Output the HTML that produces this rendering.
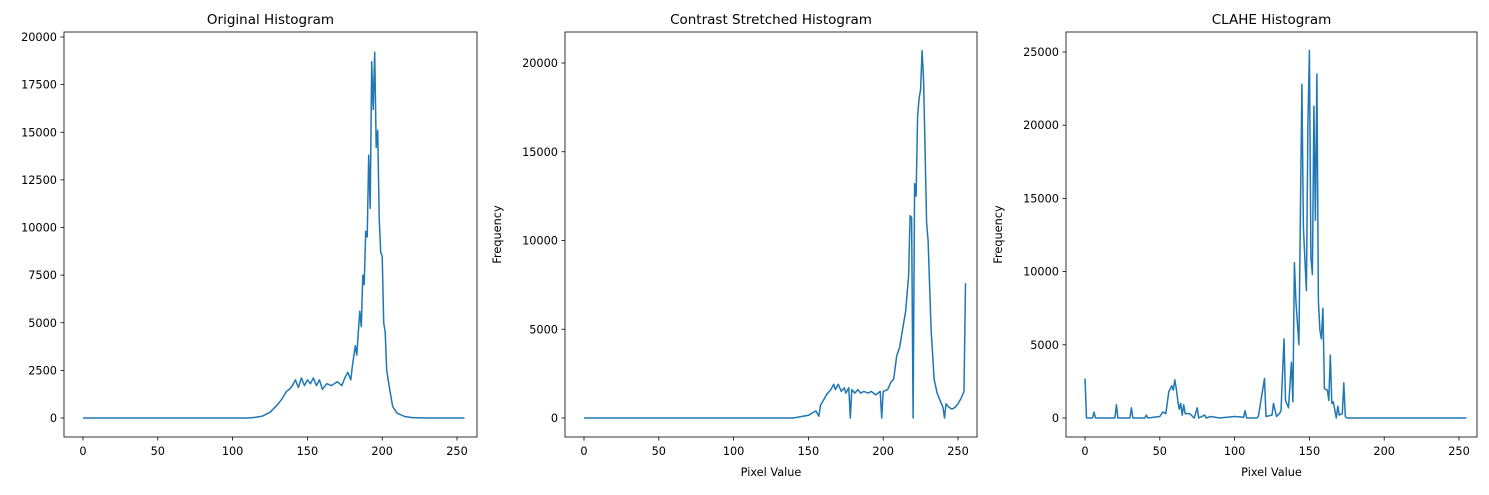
<!DOCTYPE html>
<html><head><meta charset="utf-8"><style>
body{margin:0;background:#fff;font-family:"Liberation Sans","DejaVu Sans",sans-serif;}
svg text{font-family:"DejaVu Sans","Liberation Sans",sans-serif;}
</style></head><body>
<svg id="c" width="1489" height="490" xmlns="http://www.w3.org/2000/svg"></svg>
<script>
const p1x=[0,110,115,120,125,130,133,136,138,140,142,144,146,148,150,152,154,156,158,160,163,166,170,173,175,177,179,180,182,183,184,185,186,187,188,189,190,191,192,193,194,195,196,197,198,199,200,201,202,203,205,207,210,215,220,230,255];
const p1y=[0,0,30,100,300,700,1000,1400,1500,1700,2000,1600,2100,1700,2000,1800,2100,1700,2000,1500,1800,1700,1900,1700,2100,2400,2000,2700,3800,3300,4500,5600,4800,7500,7000,9800,9500,13800,11000,18700,16200,19200,14200,15100,10500,8700,8500,5000,4500,2500,1500,600,250,80,20,0,0];
const p2x=[0,140,150,155,157,158,160,162,165,167,168,170,172,174,175,177,178,179,181,183,185,187,190,192,195,198,199,200,203,205,207,209,211,213,215,217,218,219,220,221,222,223,224,225,226,227,228,229,230,232,234,236,238,239,240,241,242,244,246,248,250,252,254,255];
const p2y=[0,0,150,400,100,700,1000,1300,1600,1900,1600,1900,1500,1700,1400,1700,0,1600,1400,1600,1400,1500,1400,1500,1300,1500,0,1500,1600,2000,2200,3500,4000,5000,6000,8000,11400,11300,0,13200,12500,17000,18000,18500,20700,19000,15000,11000,10000,5000,2200,1400,1000,800,600,0,800,600,500,600,800,1100,1500,7600];
const p3x=[0,1,5,6,7,20,21,22,30,31,32,40,41,42,50,52,54,56,58,59,60,61,62,63,64,65,66,67,70,73,75,76,80,81,84,90,100,106,107,108,115,116,120,121,125,126,128,130,131,133,134,136,138,139,140,141,143,145,146,148,149,150,151,152,153,154,155,156,157,158,159,160,162,163,164,165,166,168,169,170,172,173,174,175,255];
const p3y=[2700,0,0,400,0,0,900,0,0,700,0,0,200,0,100,400,300,1800,2200,1900,2600,2000,1200,600,1000,200,900,300,300,0,700,0,200,0,100,0,100,50,500,0,0,150,2700,100,200,1000,100,300,500,5400,1200,700,3800,1100,10600,8000,5000,22800,13000,8700,20000,25100,11000,9800,21300,13500,23500,8000,6000,5400,7500,2000,1900,1200,4300,1000,1100,0,800,200,300,2400,100,0,0];
const xTicks=[0,50,100,150,200,250];
const yT1=[0,2500,5000,7500,10000,12500,15000,17500,20000];
const yT2=[0,5000,10000,15000,20000];
const yT3=[0,5000,10000,15000,20000,25000];
const panels=[
 {name:'original',title:'Original Histogram',L:64,R:477,x0:83,x250:457,y0:418,ytop:20000,ytopPx:37,xs:p1x,ys:p1y,yt:yT1,xl:false},
 {name:'contrast-stretched',title:'Contrast Stretched Histogram',L:565,R:977,x0:584,x250:958,y0:418,ytop:20000,ytopPx:63,xs:p2x,ys:p2y,yt:yT2,xl:true},
 {name:'clahe',title:'CLAHE Histogram',L:1066,R:1477,x0:1085,x250:1459,y0:418,ytop:25000,ytopPx:52,xs:p3x,ys:p3y,yt:yT3,xl:true}];
const svg=document.getElementById('c');const NS='http://www.w3.org/2000/svg';
function mk(t,a,txt){const e=document.createElementNS(NS,t);for(const k in a)e.setAttribute(k,a[k]);if(txt!==undefined)e.textContent=txt;svg.appendChild(e);return e;}
const T=32,B=437;
panels.forEach(p=>{
 const sx=v=>p.x0+(p.x250-p.x0)*v/250;
 const sy=v=>p.y0-(p.y0-p.ytopPx)*v/p.ytop;
 const pts=p.xs.map((x,i)=>sx(x).toFixed(1)+','+sy(p.ys[i]).toFixed(1)).join(' ');
 const l=mk('polyline',{points:pts,fill:'none',stroke:'#1f77b4','stroke-width':1.5,'stroke-linejoin':'round'});
 
 
 const f=mk('rect',{x:p.L,y:T,width:p.R-p.L,height:B-T,fill:'none',stroke:'#000','stroke-width':0.8});
 
 
 xTicks.forEach(v=>{const x=sx(v);mk('line',{x1:x,x2:x,y1:B,y2:B+3.5,stroke:'#000','stroke-width':0.8});
  const t=mk('text',{x:x,y:B+18,'font-size':11.3,'text-anchor':'middle'},String(v));
  
  });
 p.yt.forEach(v=>{const y=sy(v);mk('line',{x1:p.L-3.5,x2:p.L,y1:y,y2:y,stroke:'#000','stroke-width':0.8});
  const t=mk('text',{x:p.L-7,y:y+4,'font-size':11.3,'text-anchor':'end'},String(v));
  
  });
 const tt=mk('text',{x:(p.L+p.R)/2,y:24,'font-size':13.5,'text-anchor':'middle'},p.title);
 
 
 if(p.xl){
  const xl=mk('text',{x:(p.L+p.R)/2,y:476,'font-size':11.3,'text-anchor':'middle'},'Pixel Value');
  
  
  const yx=p.L-64,yy=(T+B)/2;
  const yl=mk('text',{x:yx,y:yy,'font-size':11.3,'text-anchor':'middle',transform:'rotate(-90 '+yx+' '+yy+')'},'Frequency');
  
  
 }
});
</script>
</body></html>
